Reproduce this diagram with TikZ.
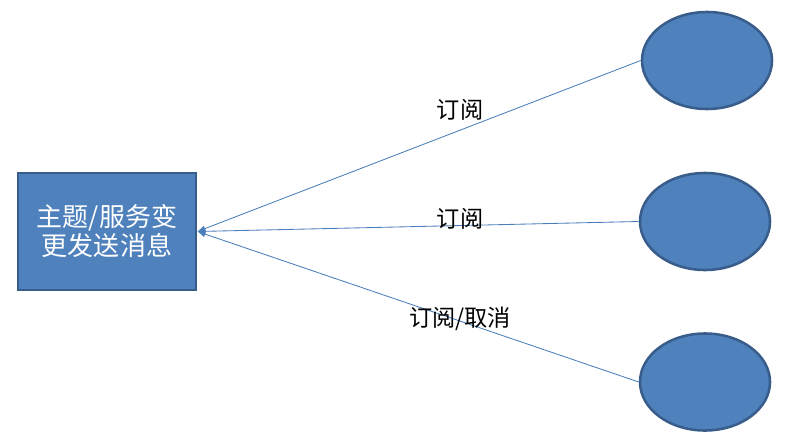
\documentclass[tikz,border=0pt]{standalone}
\usepackage{fontspec}
\usepackage{tikz}
\usetikzlibrary{arrows.meta,positioning,shapes.geometric}
\newfontfamily\cjk{Noto Sans CJK SC}
\definecolor{ShapeBlue}{HTML}{4F81BD}
\definecolor{EdgeBlue}{HTML}{385D8A}
\definecolor{LineBlue}{HTML}{4A7EBB}

\begin{document}
\begin{tikzpicture}[
  x=0.025cm, y=-0.025cm,
  topicbox/.style={draw=EdgeBlue, line width=2pt, fill=ShapeBlue, minimum width=4.45cm, minimum height=2.925cm, align=center, text=white, font=\cjk\fontsize{18.5}{20.6}\selectfont},
  client/.style={ellipse, draw=EdgeBlue, line width=1.8pt, fill=ShapeBlue, minimum width=3.25cm, minimum height=2.425cm},
  lbl/.style={font=\cjk\fontsize{16.5}{19}\selectfont, text=black},
  arr/.style={-{Latex[length=2mm,width=1.6mm]}, line width=0.6pt, LineBlue}
]
\useasboundingbox (0,0) rectangle (786,446);
\node[topicbox] (pub) at (107,231.5) {主题/服务变\\更发送消息};
\node[client] (s1) at (707,60.5) {};
\node[client] (s2) at (705,221.5) {};
\node[client] (s3) at (705,382) {};
\draw[arr] (s1.west) -- (pub.east);
\draw[arr] (s2.west) -- (pub.east);
\draw[arr] (s3.west) -- (pub.east);
\node[lbl] (l1) at (460,110) {订阅};
\node[lbl] (l2) at (460,219) {订阅};
\node[lbl] (l3) at (460,319) {订阅/取消};
\end{tikzpicture}
\end{document}
